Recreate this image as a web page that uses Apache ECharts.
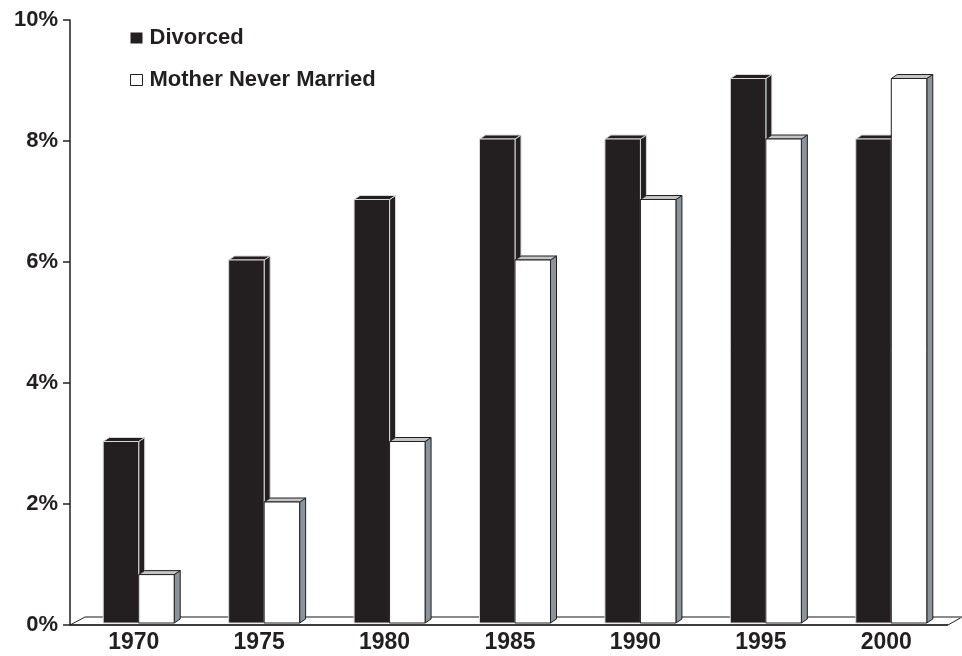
<!DOCTYPE html>
<html lang="en">
	<head>
		<meta charset="UTF-8">
		<title>Divorced vs Mother Never Married</title>
		<style type="text/css">
			html,
			body {
				width: 100%;
				height: 100%;
				margin: 0;
				padding: 0;
				background: #fff;
			}

			#main {
				width: 962px;
				height: 656px;
			}
		</style>
	</head>
	<body>
		<div id="main"></div>

		<script src="https://cdn.jsdelivr.net/npm/echarts@6/dist/echarts.min.js" type="text/javascript" charset="utf-8"></script>
		<script type="text/javascript">
			let years = ['1970', '1975', '1980', '1985', '1990', '1995', '2000'];
			let divorced = [3, 6, 7, 8, 8, 9, 8];
			let neverMarried = [0.8, 2, 3, 6, 7, 8, 9];
			let yTicks = [0, 2, 4, 6, 8, 10];

			const ink = '#231f20';
			const font = '"Liberation Sans", Arial, sans-serif';
			const dx = 6, dy = 4, lift = 2;

			// one pseudo-3d bar: front face, top face, right side
			function barRenderer(left, front, top, side, stroke) {
				return function(params, api) {
					let c = api.value(0);
					let v = api.value(1);
					let bw = api.size([1, 0])[0] * 0.283;
					let p = api.coord([c, v]);
					let p0 = api.coord([c, 0]);
					let x0 = left ? p[0] - bw : p[0];
					let x1 = x0 + bw;
					let yT = p[1] - lift;
					let yB = p0[1] - lift;
					let st = { stroke: stroke, lineWidth: 1 };
					return {
						type: 'group',
						children: [{
								type: 'polygon',
								shape: { points: [[x1, yT], [x1 + dx, yT - dy], [x1 + dx, yB - dy], [x1, yB]] },
								style: Object.assign({ fill: side }, st)
							},
							{
								type: 'polygon',
								shape: { points: [[x0, yT], [x0 + dx, yT - dy], [x1 + dx, yT - dy], [x1, yT]] },
								style: Object.assign({ fill: top }, st)
							},
							{
								type: 'rect',
								shape: { x: x0, y: yT, width: bw, height: yB - yT },
								style: Object.assign({ fill: front }, st)
							}
						]
					};
				};
			}

			// the floor under the bars, taken from the grid rect
			function floorRenderer(params, api) {
				let cs = params.coordSys;
				let yF = cs.y + cs.height;
				let yBk = yF - 8;
				let xl = cs.x - 6, xr = cs.x + cs.width - 6;
				return {
					type: 'group',
					children: [{
							type: 'polygon',
							shape: { points: [[xl, yF], [xl + 15, yBk], [xr + 14, yBk], [xr, yF]] },
							style: { fill: '#fff', stroke: ink, lineWidth: 1 }
						},
						{
							type: 'line',
							shape: { x1: xl + 15, y1: yBk, x2: xr + 14, y2: yBk },
							style: { stroke: '#8a8a8a', lineWidth: 1.5 }
						},
						{
							type: 'line',
							shape: { x1: xl, y1: yF, x2: xr, y2: yF },
							style: { stroke: ink, lineWidth: 1.5 }
						}
					]
				};
			}

			var myChart = echarts.init(document.getElementById('main'));
			var option = {
				animation: false,
				grid: {
					top: 20,
					bottom: 31,
					left: 76,
					right: 8
				},
				legend: {
					orient: 'vertical',
					left: 130,
					top: 27,
					padding: 0,
					itemWidth: 12,
					itemHeight: 11,
					itemGap: 20,
					textStyle: {
						fontFamily: font,
						fontWeight: 'bold',
						fontSize: 22,
						color: ink,
						lineHeight: 22,
						padding: [0, 0, 0, 2]
					},
					data: [{
							name: 'Divorced',
							icon: 'rect',
							itemStyle: { color: ink, borderWidth: 0 }
						},
						{
							name: 'Mother Never Married',
							icon: 'rect',
							itemStyle: { color: '#fff', borderColor: ink, borderWidth: 1 }
						}
					]
				},
				xAxis: {
					type: 'category',
					data: years,
					axisLine: { show: false },
					axisTick: { show: false },
					axisLabel: {
						margin: 6,
						fontFamily: font,
						fontWeight: 'bold',
						fontSize: 23,
						color: ink,
						padding: [0, 10, 0, 0]
					}
				},
				yAxis: {
					type: 'value',
					min: yTicks[0],
					max: yTicks[yTicks.length - 1],
					interval: 2,
					offset: 6,
					splitLine: { show: false },
					axisLine: {
						show: true,
						lineStyle: { color: ink, width: 1.5 }
					},
					axisTick: {
						show: true,
						length: 7,
						lineStyle: { color: ink, width: 1.5 }
					},
					axisLabel: {
						margin: 12,
						formatter: '{value}%',
						fontFamily: font,
						fontWeight: 'bold',
						fontSize: 22,
						color: ink
					}
				},
				series: [{
						name: 'floor',
						type: 'custom',
						renderItem: floorRenderer,
						data: [[0, 0]],
						silent: true,
						z: 1
					},
					{
						name: 'Divorced',
						type: 'custom',
						renderItem: barRenderer(true, ink, ink, ink, '#d8d8d8'),
						itemStyle: { color: ink },
						data: divorced.map((v, i) => [i, v]),
						z: 2
					},
					{
						name: 'Mother Never Married',
						type: 'custom',
						renderItem: barRenderer(false, '#fff', '#c4c4c4', '#8b949a', ink),
						itemStyle: { color: '#fff' },
						data: neverMarried.map((v, i) => [i, v]),
						z: 3
					}
				]
			};

			myChart.setOption(option);
		</script>
	</body>
</html>
